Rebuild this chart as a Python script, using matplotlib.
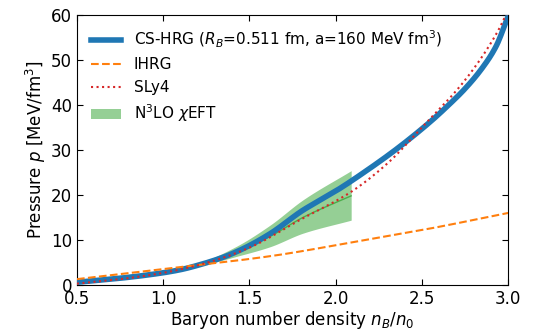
import matplotlib
matplotlib.use("Agg")
import matplotlib.pyplot as plt
import numpy as np

n_cs = [0.5, 0.75, 0.98, 1.1, 1.23, 1.35, 1.46, 1.62, 1.81, 1.88, 2.01, 2.16, 2.36, 2.55, 2.65, 2.75, 2.85, 2.93, 3.0]
p_cs = [0.6, 1.5, 2.6, 3.4, 4.7, 6.2, 8.0, 11.4, 16.6, 18.2, 21.1, 24.9, 30.4, 36.3, 39.8, 43.6, 48.2, 53.0, 59.7]

n_ihrg = [0.5, 1.04, 1.62, 2.2, 2.5, 3.0]
p_ihrg = [1.3, 3.7, 6.4, 10.2, 12.2, 16.0]

n_sly = [0.5, 0.75, 1.0, 1.25, 1.5, 1.8, 2.09, 2.3, 2.5, 2.75, 2.935, 3.0]
p_sly = [0.3, 1.3, 2.7, 4.9, 8.3, 14.6, 20.7, 27.0, 35.0, 45.5, 56.0, 61.0]

n_eft = [1.0, 1.23, 1.42, 1.62, 1.81, 2.09]
p_eft_lo = [2.7, 4.4, 6.3, 8.5, 11.5, 14.4]
p_eft_hi = [2.9, 5.2, 8.5, 13.3, 18.9, 25.4]
p_eft_mid = [2.8, 4.8, 7.3, 10.8, 15.0, 19.8]

def smooth(x, y, num=300):
    x = np.asarray(x, float); y = np.asarray(y, float)
    xs = np.linspace(x[0], x[-1], num)
    h = np.diff(x); d = np.diff(y) / h
    m = np.zeros_like(y)
    for k in range(1, len(x) - 1):
        if d[k-1] * d[k] > 0:
            w1 = 2 * h[k] + h[k-1]; w2 = h[k] + 2 * h[k-1]
            m[k] = (w1 + w2) / (w1 / d[k-1] + w2 / d[k])
    m[0] = d[0]; m[-1] = d[-1]
    idx = np.clip(np.searchsorted(x, xs) - 1, 0, len(x) - 2)
    t = (xs - x[idx]) / h[idx]
    h00 = 2*t**3 - 3*t**2 + 1; h10 = t**3 - 2*t**2 + t
    h01 = -2*t**3 + 3*t**2; h11 = t**3 - t**2
    ys = h00*y[idx] + h10*h[idx]*m[idx] + h01*y[idx+1] + h11*h[idx]*m[idx+1]
    return xs, ys

fig = plt.figure(figsize=(5.44, 3.31), dpi=100)
ax = fig.add_axes([0.1415, 0.139, 0.7925, 0.816])

xe, lo = smooth(n_eft, p_eft_lo)
_, hi = smooth(n_eft, p_eft_hi)
_, mid = smooth(n_eft, p_eft_mid)
ax.fill_between(xe, lo, hi, color='#2ca02c', alpha=0.5, lw=0, label=r'N$^3$LO $\chi$EFT')
ax.plot(xe, mid, color='#2ca02c', lw=1, alpha=0.7)

x, y = smooth(n_cs, p_cs)
ax.plot(x, y, color='#1f77b4', lw=4, label=r'CS-HRG ($R_B$=0.511 fm, a=160 MeV fm$^3$)', zorder=3)
x, y = smooth(n_ihrg, p_ihrg)
ax.plot(x, y, color='#ff7f0e', lw=1.5, ls='--', label='IHRG', zorder=4)
x, y = smooth(n_sly, p_sly)
ax.plot(x, y, color='#d62728', lw=1.5, ls=':', label='SLy4', zorder=5)

ax.set_xlim(0.5, 3.0)
ax.set_ylim(0, 60)
ax.set_xticks([0.5, 1.0, 1.5, 2.0, 2.5, 3.0])
ax.set_yticks([0, 10, 20, 30, 40, 50, 60])
ax.tick_params(direction='in', top=True, right=True, labelsize=12, length=4)
ax.set_xlabel(r'Baryon number density $n_B/n_0$', fontsize=12, labelpad=1)
ax.set_ylabel(r'Pressure $p$ [MeV/fm$^3$]', fontsize=12, labelpad=2)

h, l = ax.get_legend_handles_labels()
order = [1, 2, 3, 0]
ax.legend([h[i] for i in order], [l[i] for i in order], loc='upper left', frameon=False, fontsize=11, handlelength=2.0)

fig.savefig('out.png', dpi=100)
